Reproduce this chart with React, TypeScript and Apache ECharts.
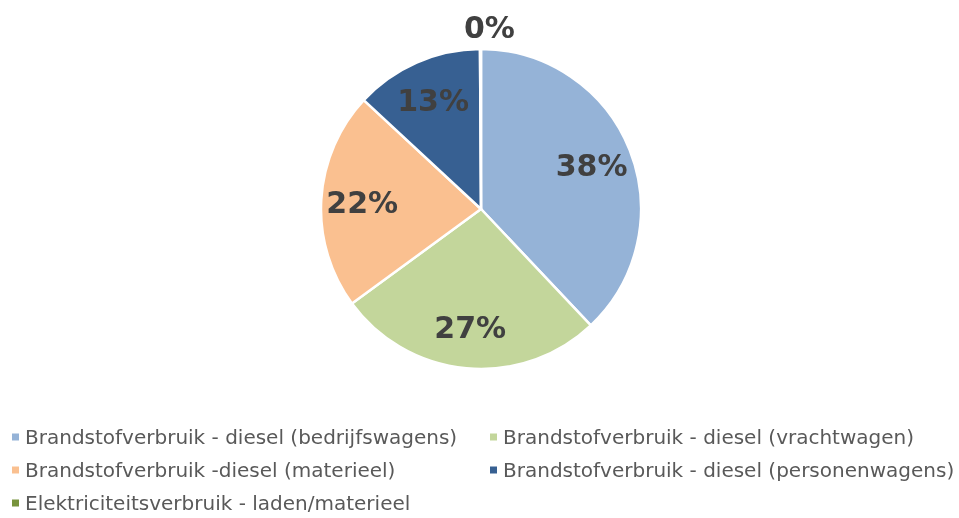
import React, { useEffect, useRef } from "react";
import * as echarts from "echarts";

const categories = [
  "Brandstofverbruik - diesel (bedrijfswagens)",
  "Brandstofverbruik - diesel (vrachtwagen)",
  "Brandstofverbruik -diesel (materieel)",
  "Brandstofverbruik - diesel (personenwagens)",
  "Elektriciteitsverbruik - laden/materieel",
];
const values = [38, 27, 22, 13, 0.1];
const colors = ["#95B3D7", "#C3D69B", "#FAC090", "#376092", "#77933C"];

const FONT = "DejaVu Sans";

export default function App() {
  const ref = useRef<HTMLDivElement>(null);
  useEffect(() => {
    if (!ref.current) return;
    const chart = echarts.init(ref.current, undefined, { renderer: "svg" });
    const labelFont = {
      fontFamily: FONT,
      fontWeight: "bold" as const,
      fontSize: 30,
      color: "#404040",
    };
    const fmt = (p: any) => Math.round(p.percent) + "%";
    chart.setOption({
      animation: false,
      color: colors,
      textStyle: { fontFamily: FONT },
      legend: {
        data: categories,
        left: 10,
        top: 427,
        padding: 0,
        orient: "horizontal",
        itemWidth: 9,
        itemHeight: 9,
        itemGap: 13,
        icon: "rect",
        textStyle: {
          fontFamily: FONT,
          fontSize: 20,
          color: "#595959",
          width: 450,
          lineHeight: 20,
        },
      },
      series: [
        {
          type: "pie",
          center: [481, 209],
          radius: 160,
          startAngle: 90,
          clockwise: true,
          data: categories.map((c, i) => ({
            name: c,
            value: values[i],
            label:
              i === 4
                ? { show: true, position: "outside", formatter: fmt, ...labelFont }
                : { show: false },
          })),
          itemStyle: { borderColor: "#ffffff", borderWidth: 2.5 },
          labelLine: { show: false, length: 22, length2: 0 },
          labelLayout: (params: any) =>
            params.dataIndex === 4 ? { align: "center", dx: 14 } : {},
          emphasis: { disabled: true },
        },
        {
          type: "pie",
          center: [481, 209],
          radius: 232,
          startAngle: 90,
          clockwise: true,
          silent: true,
          z: 3,
          data: categories.map((c, i) => ({
            name: c,
            value: values[i],
            label: { show: i < 4 },
          })),
          itemStyle: { color: "rgba(0,0,0,0)", borderWidth: 0 },
          label: { show: true, position: "inside", formatter: fmt, ...labelFont },
          labelLine: { show: false },
          emphasis: { disabled: true },
        },
      ],
    });
    return () => chart.dispose();
  }, []);
  return (
    <div
      ref={ref}
      style={{ position: "fixed", left: 0, top: 0, width: 959, height: 518 }}
    />
  );
}
